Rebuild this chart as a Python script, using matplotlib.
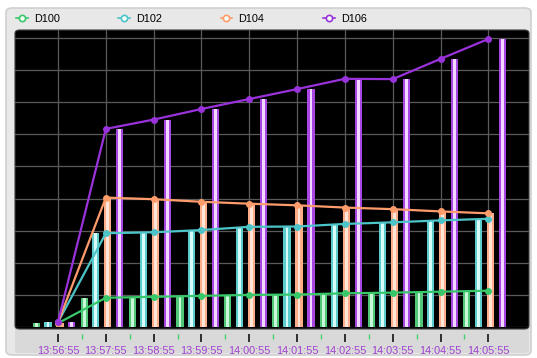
import numpy as np
import matplotlib
matplotlib.use("Agg")
from matplotlib import pyplot as plt
from matplotlib.lines import Line2D
from matplotlib.patches import FancyBboxPatch

# sample times and the four series
times = ['13:56:55', '13:57:55', '13:58:55', '13:59:55', '14:00:55',
         '14:01:55', '14:02:55', '14:03:55', '14:04:55', '14:05:55']
d100 = [1.2, 9.1, 9.4, 9.7, 10.0, 10.1, 10.5, 10.7, 11.0, 11.3]
d102 = [1.5, 29.2, 29.5, 30.2, 31.2, 31.3, 32.1, 32.6, 33.2, 33.7]
d104 = [1.4, 40.3, 39.8, 39.0, 38.4, 37.9, 37.2, 36.7, 36.0, 35.4]
d106 = [1.6, 61.7, 64.6, 67.9, 71.0, 74.1, 77.3, 77.2, 83.5, 89.7]
names = ['D100', 'D102', 'D104', 'D106']

line_colors = ['#38c86a', '#4cc4c8', '#ff9c6c', '#9a32dc']
bar_edge = ['#50c878', '#5ccccc', '#ffac88', '#a846e4']
bar_mid = ['#c8f8d8', '#d8fcfc', '#ffe4d8', '#f2d8ff']

W, H = 537, 358
plt.rcParams['font.family'] = ['Liberation Sans', 'DejaVu Sans']
fig = plt.figure(figsize=(W / 100, H / 100), dpi=100)
fig.patch.set_facecolor('white')


def fx(px):
    return px / W


def fy(py):
    return 1 - py / H


# outer panel
fig.patches.append(FancyBboxPatch((fx(6), fy(355)), fx(525), 347 / H,
                                  boxstyle="round,pad=0,rounding_size=0.012",
                                  transform=fig.transFigure, facecolor='#e8e8e8',
                                  edgecolor='#cfcfcf', linewidth=1.2, zorder=-3))
# axis label band
fig.patches.append(FancyBboxPatch((fx(15), fy(353)), fx(514), 26 / H,
                                  boxstyle="round,pad=0,rounding_size=0.008",
                                  transform=fig.transFigure, facecolor='#d9d9d9',
                                  edgecolor='none', zorder=-2))
# black plot panel with rounded corners
fig.patches.append(FancyBboxPatch((fx(15), fy(329)), fx(514), 299 / H,
                                  boxstyle="round,pad=0,rounding_size=0.009",
                                  transform=fig.transFigure, facecolor='black',
                                  edgecolor='#404040', linewidth=0.8, zorder=-1))

ax = fig.add_axes([fx(15), fy(327), fx(514), 297 / H])
ax.set_zorder(2)
ax.set_facecolor('none')
for s in ax.spines.values():
    s.set_color('none')
ax.spines['bottom'].set_position(('outward', 5))

x = np.arange(len(times))
series = [d100, d102, d104, d106]
offsets = [-0.45, -0.21, 0.04, 0.29]

for vals, off, ce, cm in zip(series, offsets, bar_edge, bar_mid):
    ax.bar(x + off, vals, width=0.15, color=ce, zorder=2)
    ax.bar(x + off, vals, width=0.06, color=cm, zorder=2.1)

for vals, c in zip(series, line_colors):
    ax.plot(x, vals, color=c, lw=1.6, marker='o', markersize=4, zorder=3)

ax.set_xlim(-0.9, 9.85)
ax.set_ylim(0, 92.5)
ax.set_yticks(np.arange(0, 91, 10))
ax.set_xticks(x)
ax.set_xticks(x[:-1] + 0.5, minor=True)
ax.set_xticklabels(times)
ax.grid(True, which='major', color='#5a5a5a', lw=0.9, zorder=1)
ax.set_axisbelow(True)
ax.tick_params(axis='y', left=False, labelleft=False)
ax.tick_params(axis='x', which='major', direction='out', length=6, width=1.4,
               color='#303030', pad=3, labelsize=7.8, labelcolor='#a040d0')
ax.tick_params(axis='x', which='minor', direction='out', length=3.5, width=1.0,
               color='#40d070')

handles = [Line2D([], [], color=c, lw=1.2, marker='o', markersize=4.5,
                  markerfacecolor='#f4fff8', markeredgecolor=c, markeredgewidth=1.2)
           for c in line_colors]
fig.legend(handles, names, loc='center left', bbox_to_anchor=(fx(16), fy(19)),
           ncol=4, frameon=False, fontsize=7.8, borderpad=0, borderaxespad=0,
           handlelength=1.1, handletextpad=0.55, columnspacing=5.4)

fig.savefig('out.png', dpi=100)
